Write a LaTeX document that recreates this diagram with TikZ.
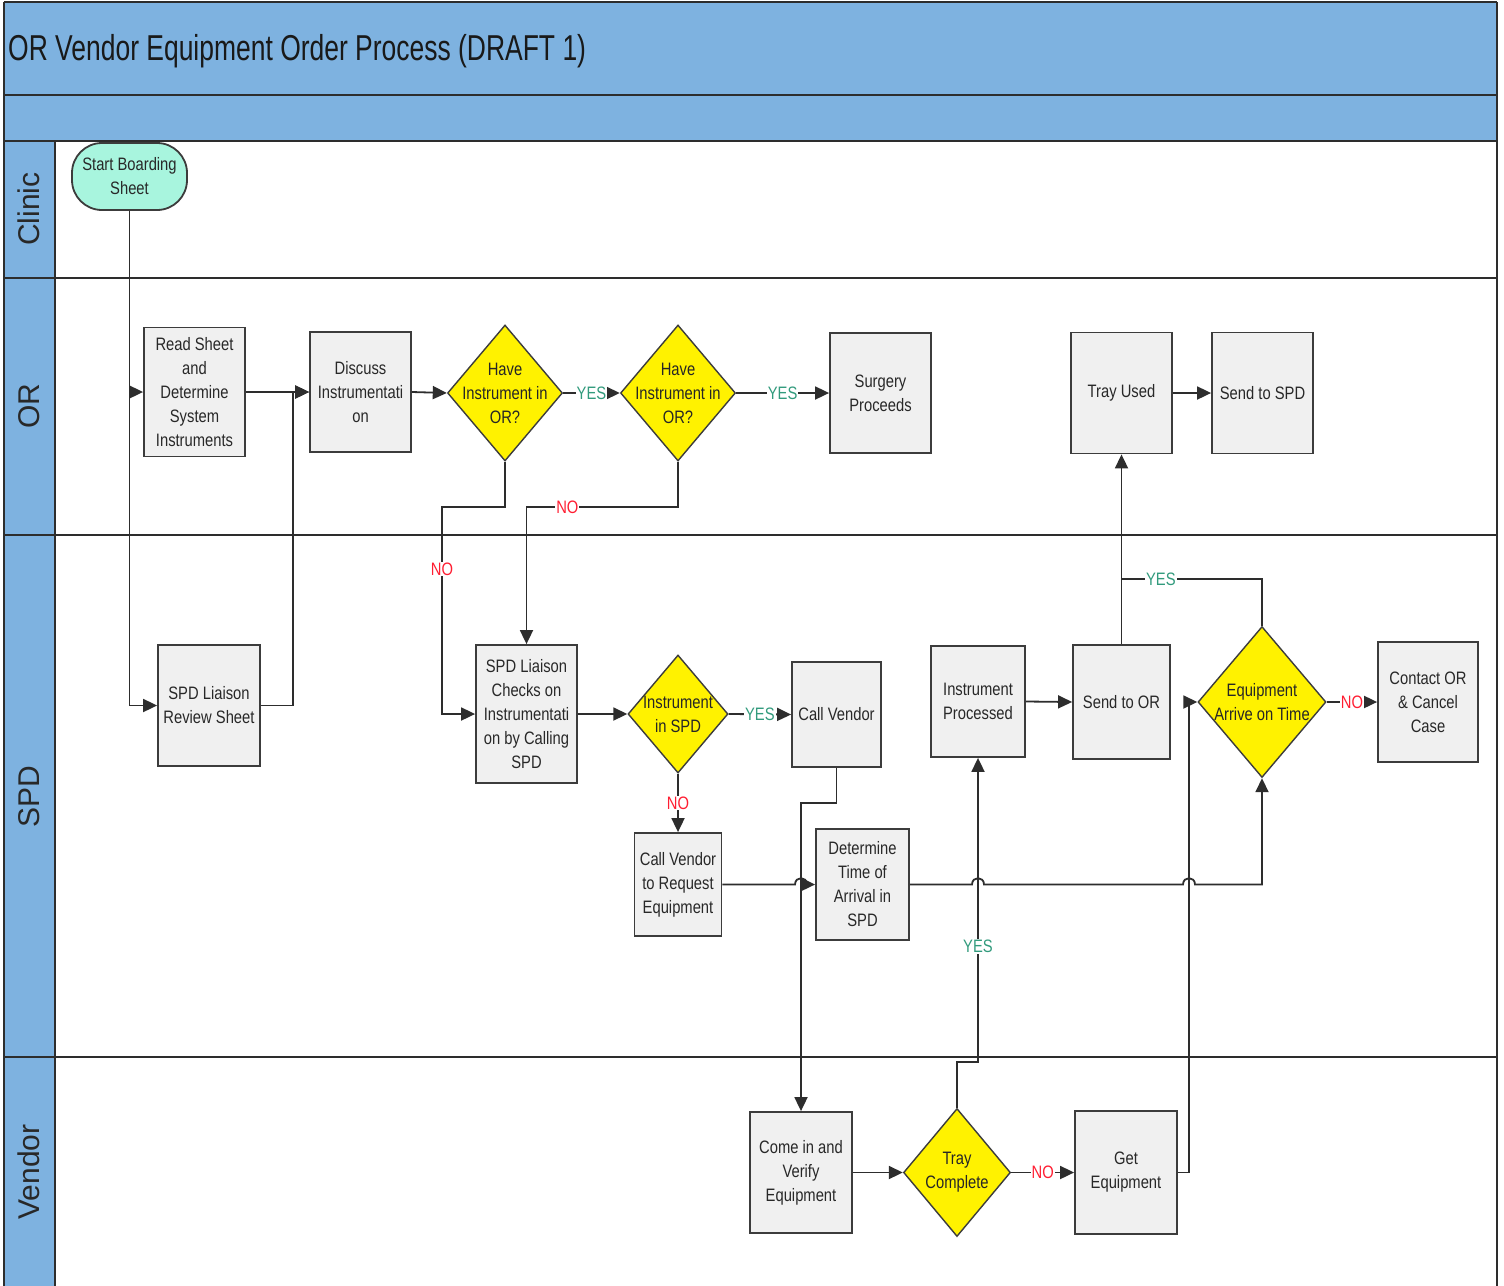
\documentclass[tikz,border=0pt]{standalone}
\usepackage{fontspec}
\setmainfont{Liberation Sans}
\newfontfamily\nodefont[FakeStretch=0.82]{Liberation Sans}
\newfontfamily\titlefont[FakeStretch=0.735]{Liberation Sans}
\usetikzlibrary{arrows.meta,shapes.geometric}
\definecolor{hdr}{RGB}{126,178,224}
\definecolor{boxfill}{RGB}{240,240,240}
\definecolor{boxline}{RGB}{60,60,60}
\definecolor{startfill}{RGB}{168,245,222}
\definecolor{yescol}{RGB}{50,155,125}
\definecolor{nocol}{RGB}{255,30,50}
\definecolor{txt}{RGB}{40,40,40}
\definecolor{lanecol}{RGB}{45,45,45}
\tikzset{
  pbox/.style={draw=boxline, fill=boxfill, line width=1.8pt, inner sep=0pt,
    align=center, text=txt, font=\nodefont\fontsize{18}{24}\selectfont},
  dia/.style={diamond, draw=boxline, fill=yellow, line width=1.4pt, inner sep=0pt},
  dtext/.style={align=center, text=black!85, inner sep=0pt, font=\nodefont\fontsize{18}{24}\selectfont},
  conn/.style={draw=lanecol, line width=1.8pt},
  arr/.style={conn, -{Triangle[length=14pt,width=13pt]}},
  yeslab/.style={fill=white, text=yescol, inner sep=1pt, font=\nodefont\fontsize{18}{20}\selectfont},
  nolab/.style={fill=white, text=nocol, inner sep=1pt, font=\nodefont\fontsize{18}{20}\selectfont},
  lanelab/.style={rotate=90, text=txt, font=\fontsize{30}{32}\selectfont},
}
\begin{document}
\begin{tikzpicture}[x=1pt,y=-1pt]
\useasboundingbox (0,0) rectangle (1504,1285);
% header bands
\fill[hdr] (4,2) rectangle (1497,141);
\fill[hdr] (4,141) rectangle (55,1290);
\fill[white] (55,141) rectangle (1497,1290);
\draw[lanecol, line width=2.5pt] (4,2) -- (1497,2);
\draw[lanecol, line width=2.5pt] (4,95) -- (1497,95);
\draw[lanecol, line width=2.5pt] (4,141) -- (1497,141);
\draw[lanecol, line width=2.5pt] (4,278) -- (1497,278);
\draw[lanecol, line width=2.5pt] (4,535) -- (1497,535);
\draw[lanecol, line width=2.5pt] (4,1057) -- (1497,1057);
\draw[lanecol, line width=2.5pt] (4,2) -- (4,1290);
\draw[lanecol, line width=2.5pt] (1497,2) -- (1497,1290);
\draw[lanecol, line width=2.5pt] (55,141) -- (55,1290);
% title
\node[anchor=west, inner sep=0pt, text=black!90, font=\titlefont\fontsize{36}{40}\selectfont] (title) at (8,51) {OR Vendor Equipment Order Process (DRAFT 1)};
% lane labels
\node[lanelab] (lclinic) at (29,209) {Clinic};
\node[lanelab] (lor) at (29,406) {OR};
\node[lanelab] (lspd) at (29,797) {SPD};
\node[lanelab] (lvendor) at (29,1172) {Vendor};
% nodes
\node[pbox, fill=startfill, rounded corners=30pt, minimum width=115pt, minimum height=67pt] (start) at (129.5,176.5) {Start Boarding\\Sheet};
\node[pbox, minimum width=101pt, minimum height=129pt] (read) at (194.5,392) {Read Sheet\\and\\Determine\\System\\Instruments};
\node[pbox, minimum width=101pt, minimum height=120pt] (discuss) at (360.5,392) {Discuss\\Instrumentati\\on};
\node[dia, minimum width=115pt, minimum height=136pt] (d1) at (505,393) {};
\node[dtext] (d1t) at (505,393) {Have\\Instrument in\\OR?};
\node[dia, minimum width=115pt, minimum height=136pt] (d2) at (678,393) {};
\node[dtext] (d2t) at (678,393) {Have\\Instrument in\\OR?};
\node[pbox, minimum width=101pt, minimum height=120pt] (surgery) at (880.5,393) {Surgery\\Proceeds};
\node[pbox, minimum width=101pt, minimum height=121pt] (tray) at (1121.5,393) {Tray Used};
\node[pbox, minimum width=101pt, minimum height=121pt] (sendspd) at (1262.5,393) {Send to SPD};
% SPD lane
\node[pbox, minimum width=102pt, minimum height=121pt] (review) at (209,705.5) {SPD Liaison\\Review Sheet};
\node[pbox, minimum width=101pt, minimum height=138pt] (checks) at (526.5,714) {SPD Liaison\\Checks on\\Instrumentati\\on by Calling\\SPD};
\node[dia, minimum width=100pt, minimum height=118pt] (d3) at (678,714) {};
\node[dtext] (d3t) at (678,714) {Instrument\\in SPD};
\node[pbox, minimum width=89pt, minimum height=105pt] (callv) at (836.5,714.5) {Call Vendor};
\node[pbox, minimum width=87pt, minimum height=103pt] (callreq) at (678,884.5) {Call Vendor\\to Request\\Equipment};
\node[pbox, minimum width=93pt, minimum height=111pt] (determine) at (862.5,884.5) {Determine\\Time of\\Arrival in\\SPD};
\node[pbox, minimum width=94pt, minimum height=111pt] (instproc) at (978,701.5) {Instrument\\Processed};
\node[pbox, minimum width=97pt, minimum height=114pt] (sendor) at (1121.5,702) {Send to OR};
\node[dia, minimum width=128pt, minimum height=151pt] (d4) at (1262,702) {};
\node[dtext] (d4t) at (1262,702) {Equipment\\Arrive on Time};
\node[pbox, minimum width=100pt, minimum height=120pt] (contact) at (1428,702) {Contact OR\\\& Cancel\\Case};
% Vendor lane
\node[pbox, minimum width=102pt, minimum height=121pt] (come) at (801,1172.5) {Come in and\\Verify\\Equipment};
\node[dia, minimum width=107pt, minimum height=128pt] (d5) at (957,1172.5) {};
\node[dtext] (d5t) at (957,1172.5) {Tray\\Complete};
\node[pbox, minimum width=102pt, minimum height=123pt] (getequip) at (1126,1172.5) {Get\\Equipment};
% junction coordinates
\coordinate (jr) at (293,705.5);
\coordinate (ja) at (505,507);
\coordinate (jb) at (442,507);
\coordinate (jc) at (442,714);
\coordinate (jd) at (678,507);
\coordinate (je) at (526.5,507);
\coordinate (jf) at (836.5,803);
\coordinate (jg) at (801,803);
\coordinate (jh) at (957,1062);
\coordinate (ji) at (978,1062);
\coordinate (jk) at (1189,1172.5);
\coordinate (jl) at (1189,702);
\coordinate (jm) at (1262,579);
\coordinate (jn) at (1121.5,579);
\coordinate (jo) at (1262,884.5);
% connectors
\draw[arr] (start.south) |- (read.west);
\draw[arr] (start.south) |- (review.west);
\draw[arr] (read.east) -- (discuss.west);
\draw[arr] (review.east) -- (jr) |- (discuss.west);
\draw[arr] (discuss.east) -- (d1.west);
\draw[arr] (d1.east) -- node[yeslab]{YES} (d2.west);
\draw[arr] (d2.east) -- node[yeslab]{YES} (surgery.west);
\draw[arr] (d1.south) -- (ja) -- (jb) -- node[nolab, pos=0.3]{NO} (jc) -- (checks.west);
\draw[arr] (d2.south) -- (jd) -- node[nolab, pos=0.73]{NO} (je) -- (checks.north);
\draw[arr] (checks.east) -- (d3.west);
\draw[arr] (d3.east) -- node[yeslab]{YES} (callv.west);
\draw[arr] (d3.south) -- node[nolab]{NO} (callreq.north);
\draw[arr] (callv.south) -- (jf) -- (jg) -- (come.north);
\draw[arr] (callreq.east) -- (795,884.5) .. controls (795,876) and (807,876) .. (807,884.5) -- (determine.west);
\draw[arr] (determine.east) -- (972,884.5) .. controls (972,876) and (984,876) .. (984,884.5)
   -- (1183,884.5) .. controls (1183,876) and (1195,876) .. (1195,884.5) -- (jo) -- (d4.south);
\draw[arr] (come.east) -- (d5.west);
\draw[arr] (d5.north) -- (jh) -- (ji) -- node[yeslab, pos=0.38]{YES} (instproc.south);
\draw[arr] (d5.east) -- node[nolab]{NO} (getequip.west);
\draw[arr] (getequip.east) -- (jk) -- (jl) -- (d4.west);
\draw[arr] (instproc.east) -- (sendor.west);
\draw[arr] (sendor.north) -- (tray.south);
\draw[conn] (d4.north) -- (jm) -- node[yeslab, pos=0.72]{YES} (jn);
\draw[arr] (d4.east) -- node[nolab]{NO} (contact.west);
\draw[arr] (tray.east) -- (sendspd.west);
\end{tikzpicture}
\end{document}
